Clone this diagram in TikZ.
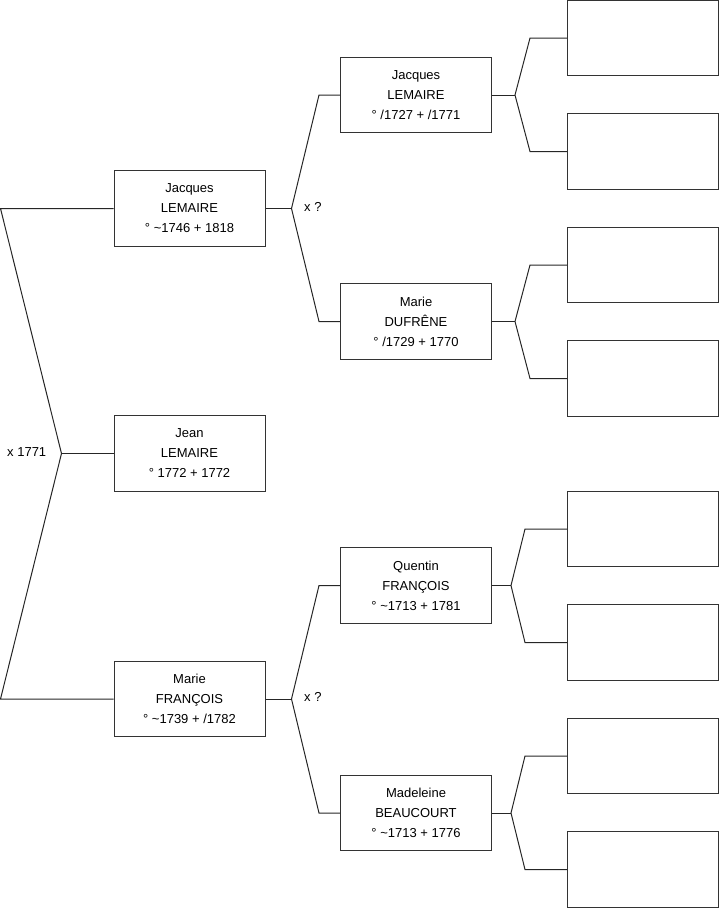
\documentclass[tikz,border=0pt]{standalone}
\usepackage{fontspec}
\setmainfont{Liberation Sans}
\begin{document}
\begin{tikzpicture}[x=1pt,y=-1pt,
  person/.style={draw=black!80,line width=1pt,minimum width=151pt,minimum height=75.5pt,inner sep=0pt,align=center,font=\fontsize{13pt}{20pt}\selectfont},
  empty/.style={draw=black!80,line width=1pt,minimum width=151pt,minimum height=75.5pt,inner sep=0pt},
  conn/.style={draw=black!85,line width=1pt},
  lbl/.style={anchor=west,inner sep=0pt,font=\fontsize{13pt}{15pt}\selectfont}]
\useasboundingbox (0,0) rectangle (719,908);
% generation 1
\node[person] (g1a) at (189.5,208.5) {Jacques\\LEMAIRE\\° \textasciitilde1746 + 1818};
\node[person] (g1b) at (189.5,453.5) {Jean\\LEMAIRE\\° 1772 + 1772};
\node[person] (g1c) at (189.5,699) {Marie\\FRANÇOIS\\° \textasciitilde1739 + /1782};
% generation 2
\node[person] (g2a) at (416,95) {Jacques\\LEMAIRE\\° /1727 + /1771};
\node[person] (g2b) at (416,321.5) {Marie\\DUFRÊNE\\° /1729 + 1770};
\node[person] (g2c) at (416,585.5) {Quentin\\FRANÇOIS\\° \textasciitilde1713 + 1781};
\node[person] (g2d) at (416,813) {Madeleine\\BEAUCOURT\\° \textasciitilde1713 + 1776};
% generation 3
\node[empty] (g3a) at (643,38) {};
\node[empty] (g3b) at (643,151.5) {};
\node[empty] (g3c) at (643,265) {};
\node[empty] (g3d) at (643,378.5) {};
\node[empty] (g3e) at (643,529) {};
\node[empty] (g3f) at (643,642.5) {};
\node[empty] (g3g) at (643,756) {};
\node[empty] (g3h) at (643,869.5) {};
% left fork
\coordinate (lt) at (0.5,208.5);
\coordinate (lf) at (61.5,453.5);
\coordinate (lb) at (0.5,699);
\draw[conn] (g1a.west) -- (lt) -- (lf) -- (lb) -- (g1c.west);
\draw[conn] (lf) -- (g1b.west);
\node[lbl] (m1) at (7,452) {x 1771};
% gen1 -> gen2
\coordinate (fa) at (291.5,208.5);
\coordinate (fat) at (319,95);
\coordinate (fab) at (319,321.5);
\draw[conn] (g1a.east) -- (fa);
\draw[conn] (g2a.west) -- (fat) -- (fa) -- (fab) -- (g2b.west);
\node[lbl] (m2) at (304,207) {x ?};
\coordinate (fc) at (291.5,699);
\coordinate (fct) at (319,585.5);
\coordinate (fcb) at (319,813);
\draw[conn] (g1c.east) -- (fc);
\draw[conn] (g2c.west) -- (fct) -- (fc) -- (fcb) -- (g2d.west);
\node[lbl] (m3) at (304,697) {x ?};
% gen2 -> gen3
\coordinate (ha) at (515,95);
\coordinate (hat) at (530,38);
\coordinate (hab) at (530,151.5);
\draw[conn] (g2a.east) -- (ha);
\draw[conn] (g3a.west) -- (hat) -- (ha) -- (hab) -- (g3b.west);
\coordinate (hb) at (515,321.5);
\coordinate (hbt) at (530,265);
\coordinate (hbb) at (530,378.5);
\draw[conn] (g2b.east) -- (hb);
\draw[conn] (g3c.west) -- (hbt) -- (hb) -- (hbb) -- (g3d.west);
\coordinate (hc) at (511,585.5);
\coordinate (hct) at (525,529);
\coordinate (hcb) at (525,642.5);
\draw[conn] (g2c.east) -- (hc);
\draw[conn] (g3e.west) -- (hct) -- (hc) -- (hcb) -- (g3f.west);
\coordinate (hd) at (511,813);
\coordinate (hdt) at (525,756);
\coordinate (hdb) at (525,869.5);
\draw[conn] (g2d.east) -- (hd);
\draw[conn] (g3g.west) -- (hdt) -- (hd) -- (hdb) -- (g3h.west);
\end{tikzpicture}
\end{document}
